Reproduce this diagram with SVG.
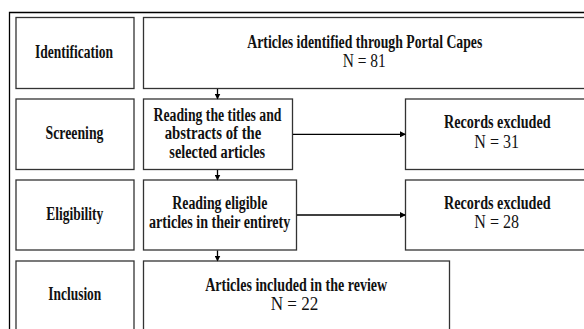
<svg xmlns="http://www.w3.org/2000/svg" width="584" height="329" viewBox="0 0 584 329">
<defs>
<marker id="ah" markerWidth="6" markerHeight="6" refX="5" refY="3" orient="auto" markerUnits="userSpaceOnUse">
<path d="M0,0 L6,3 L0,6 Z" fill="#000"/>
</marker>
<style>
.box{fill:#fff;stroke:#333;stroke-width:1.3}
.t{font-family:"Liberation Serif",serif;font-size:18px;font-weight:bold;fill:#111;text-anchor:middle}
.n{font-family:"Liberation Serif",serif;font-size:18px;fill:#111;text-anchor:middle}
.c{fill:none;stroke:#000;stroke-width:1.3}
</style>
</defs>
<rect width="584" height="329" fill="#fff"/>
<path d="M9.5,340 V12.5 H590" fill="none" stroke="#000" stroke-width="1.3"/>
<g id="identification">
<rect class="box" x="16" y="17.5" width="118" height="71"/>
<text class="t" x="74" y="58" textLength="78" lengthAdjust="spacingAndGlyphs">Identification</text>
</g>
<g id="screening">
<rect class="box" x="16" y="99" width="118" height="70.5"/>
<text class="t" x="74.5" y="139.3" textLength="58" lengthAdjust="spacingAndGlyphs">Screening</text>
</g>
<g id="eligibility">
<rect class="box" x="16" y="180" width="118" height="70"/>
<text class="t" x="74.7" y="220" textLength="57" lengthAdjust="spacingAndGlyphs">Eligibility</text>
</g>
<g id="inclusion">
<rect class="box" x="16" y="261" width="118" height="80"/>
<text class="t" x="74.8" y="300" textLength="53" lengthAdjust="spacingAndGlyphs">Inclusion</text>
</g>
<g id="identified">
<rect class="box" x="143.5" y="17.5" width="443" height="71"/>
<text class="t" x="364.8" y="48.3" textLength="235" lengthAdjust="spacingAndGlyphs">Articles identified through Portal Capes</text>
<text class="n" x="364.3" y="66.9" textLength="43" lengthAdjust="spacingAndGlyphs">N = 81</text>
</g>
<g id="reading-titles">
<rect class="box" x="143.5" y="99" width="149" height="70.5"/>
<text class="t" x="217.5" y="120.7" textLength="128" lengthAdjust="spacingAndGlyphs">Reading the titles and</text>
<text class="t" x="213" y="139.3" textLength="96.6" lengthAdjust="spacingAndGlyphs">abstracts of the</text>
<text class="t" x="217.2" y="157.7" textLength="95.7" lengthAdjust="spacingAndGlyphs">selected articles</text>
</g>
<g id="excluded-1">
<rect class="box" x="405.5" y="99" width="185" height="70.5"/>
<text class="t" x="497.3" y="128.3" textLength="106.7" lengthAdjust="spacingAndGlyphs">Records excluded</text>
<text class="n" x="496.7" y="148.3" textLength="44.7" lengthAdjust="spacingAndGlyphs">N = 31</text>
</g>
<g id="reading-eligible">
<rect class="box" x="143.5" y="180" width="153" height="70"/>
<text class="t" x="219.8" y="209.3" textLength="95" lengthAdjust="spacingAndGlyphs">Reading eligible</text>
<text class="t" x="219.7" y="228.3" textLength="141.3" lengthAdjust="spacingAndGlyphs">articles in their entirety</text>
</g>
<g id="excluded-2">
<rect class="box" x="405.5" y="180" width="185" height="70"/>
<text class="t" x="497.3" y="209.3" textLength="106.7" lengthAdjust="spacingAndGlyphs">Records excluded</text>
<text class="n" x="496.7" y="228.3" textLength="44.7" lengthAdjust="spacingAndGlyphs">N = 28</text>
</g>
<g id="included">
<rect class="box" x="143.5" y="261" width="306" height="80"/>
<text class="t" x="296.2" y="291.2" textLength="182" lengthAdjust="spacingAndGlyphs">Articles included in the review</text>
<text class="n" x="294.5" y="309.8" textLength="47.6" lengthAdjust="spacingAndGlyphs">N = 22</text>
</g>
<g id="connectors">
<line class="c" x1="217.5" y1="89" x2="217.5" y2="98.5" marker-end="url(#ah)"/>
<line class="c" x1="217.5" y1="170" x2="217.5" y2="179.5" marker-end="url(#ah)"/>
<line class="c" x1="217.5" y1="250.5" x2="217.5" y2="260.5" marker-end="url(#ah)"/>
<line class="c" x1="293" y1="134.3" x2="405" y2="134.3" marker-end="url(#ah)"/>
<line class="c" x1="297" y1="215" x2="405" y2="215" stroke-width="2" marker-end="url(#ah)"/>
</g>
</svg>
